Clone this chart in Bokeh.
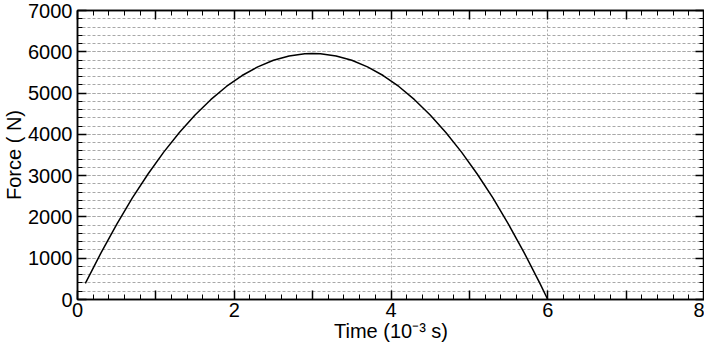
from bokeh.plotting import figure
from bokeh.models import LinearAxis, FixedTicker, Range1d
from bokeh.embed import file_html
from bokeh.resources import INLINE

time_ms = [0.1, 0.3, 0.5, 0.7, 0.9, 1.1, 1.3, 1.5, 1.7, 1.9, 2.1, 2.3, 2.5, 2.7, 2.9, 3.0,
           3.1, 3.3, 3.5, 3.7, 3.9, 4.1, 4.3, 4.5, 4.7, 4.9, 5.1, 5.3, 5.5, 5.7, 5.9, 6.0]
force_n = [390, 1130, 1820, 2460, 3040, 3570, 4045, 4470, 4840, 5160, 5425, 5635, 5795, 5900, 5955, 5960,
           5955, 5900, 5795, 5635, 5425, 5160, 4840, 4470, 4045, 3570, 3040, 2460, 1820, 1130, 390, 0]

x_major = [0, 1, 2, 3, 4, 5, 6, 7, 8]
x_labels = {1: "", 3: "", 5: "", 7: ""}
x_grid = [2, 4, 6]
y_major = [0, 1000, 2000, 3000, 4000, 5000, 6000, 7000]
y_minor = [v for v in range(0, 7001, 200)]
x_minor = [i / 5 for i in range(0, 41)]

FONT = "Liberation Sans"

p = figure(width=704, height=344, output_backend="svg", toolbar_location=None,
           x_range=Range1d(0, 8), y_range=Range1d(0, 7000),
           min_border_left=0, min_border_right=0, min_border_top=10, min_border_bottom=0)

p.line(time_ms, force_n, line_color="black", line_width=1.5)

xt = FixedTicker(ticks=x_major, minor_ticks=x_minor)
yt = FixedTicker(ticks=y_major, minor_ticks=y_minor)

def style_axis(ax):
    ax.axis_line_color = "black"
    ax.axis_line_width = 1.5
    ax.major_tick_in = 9
    ax.major_tick_out = 0
    ax.minor_tick_in = 5
    ax.minor_tick_out = 0
    ax.major_tick_line_color = "black"
    ax.minor_tick_line_color = "black"
    ax.major_tick_line_width = 1.5
    ax.minor_tick_line_width = 1
    ax.major_label_text_font = FONT
    ax.major_label_text_font_size = "20px"
    ax.major_label_text_color = "black"
    ax.axis_label_text_font = FONT
    ax.axis_label_text_font_size = "20px"
    ax.axis_label_text_font_style = "normal"
    ax.axis_label_text_color = "black"

p.xaxis.ticker = xt
p.xaxis.major_label_overrides = x_labels
p.xaxis.axis_label = "Time (10\u207b\u00b3 s)"
p.yaxis.ticker = yt
p.yaxis.axis_label = "Force ( N)"
style_axis(p.xaxis[0])
style_axis(p.yaxis[0])
p.xaxis.major_label_standoff = 3
p.xaxis.axis_label_standoff = 0
p.yaxis.major_label_standoff = 5
p.yaxis.axis_label_standoff = 0

top = LinearAxis(ticker=xt, major_label_overrides={v: "" for v in x_major})
style_axis(top)
top.major_label_standoff = 0
p.add_layout(top, "above")
right = LinearAxis(ticker=yt, major_label_overrides={v: "" for v in y_major})
style_axis(right)
right.major_label_standoff = 0
p.add_layout(right, "right")

p.xgrid.ticker = FixedTicker(ticks=x_grid)
p.xgrid.grid_line_color = "#a8a8a8"
p.xgrid.grid_line_dash = "2 2"
p.xgrid.grid_line_width = 1
p.ygrid.ticker = yt
p.ygrid.grid_line_color = "#a8a8a8"
p.ygrid.grid_line_dash = "3 2"
p.ygrid.minor_grid_line_color = "#a8a8a8"
p.ygrid.minor_grid_line_dash = "3 2"

p.outline_line_color = "black"
p.outline_line_width = 1.5
p.background_fill_color = "white"
p.border_fill_color = "white"

open("out.html", "w").write(file_html(p, INLINE))
